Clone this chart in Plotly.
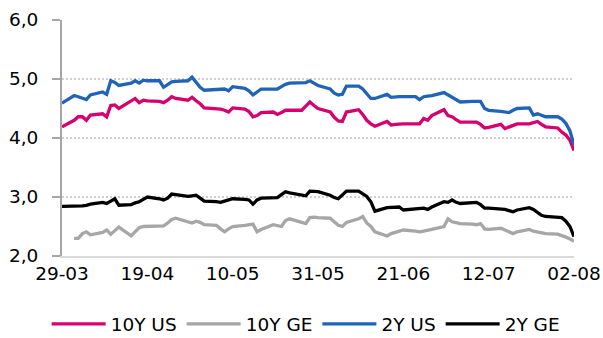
import plotly.graph_objects as go
import pandas as pd

dates = pd.bdate_range("2024-03-29", "2024-08-02").strftime("%Y-%m-%d").tolist()

us10 = [4.19, 4.30, 4.36, 4.36, 4.30, 4.39, 4.41, 4.36, 4.55, 4.56, 4.50,
        4.62, 4.67, 4.60, 4.64, 4.63, 4.62, 4.60, 4.64, 4.70, 4.67,
        4.64, 4.69, 4.63, 4.58, 4.51, 4.50, 4.49, 4.47, 4.44, 4.51,
        4.49, 4.45, 4.36, 4.38, 4.43, 4.44, 4.40, 4.43, 4.47, 4.47,
        4.47, 4.54, 4.61, 4.55, 4.50, 4.44, 4.35, 4.29, 4.28, 4.44,
        4.48, 4.40, 4.30, 4.24, 4.20, 4.28, 4.22, 4.23, 4.24, 4.24,
        4.24, 4.24, 4.33, 4.30, 4.38, 4.48, 4.38, 4.36, 4.31, 4.27,
        4.27, 4.27, 4.23, 4.17, 4.18, 4.23, 4.16, 4.19, 4.21, 4.24,
        4.24, 4.26, 4.28, 4.23, 4.19, 4.17, 4.10, 4.05, 3.96, 3.79]

ge10 = [None, 2.30, 2.30, 2.38, 2.41, 2.36, 2.40, 2.44, 2.37, 2.43, 2.49,
        2.34, 2.41, 2.48, 2.50, 2.50, 2.51, 2.51, 2.56, 2.62, 2.64,
        2.58, 2.56, 2.59, 2.57, 2.53, 2.52, 2.46, 2.41, 2.46, 2.50,
        2.52, 2.53, 2.54, 2.41, 2.45, 2.53, 2.52, 2.50, 2.60, 2.63,
        2.57, 2.55, 2.65, 2.66, 2.65, 2.64, 2.58, 2.52, 2.50, 2.57,
        2.63, 2.67, 2.56, 2.50, 2.41, 2.34, 2.38, 2.40, 2.42, 2.44,
        2.42, 2.41, 2.42, 2.44, 2.45, 2.50, 2.63, 2.58, 2.57, 2.55,
        2.54, 2.53, 2.55, 2.46, 2.45, 2.47, 2.44, 2.41, 2.38, 2.41,
        2.45, 2.42, 2.41, 2.39, 2.38, 2.37, 2.35, 2.32, 2.29, 2.25]

us2 = [4.59, 4.72, 4.70, 4.67, 4.65, 4.73, 4.78, 4.74, 4.97, 4.94, 4.89,
       4.93, 4.97, 4.93, 4.98, 4.97, 4.97, 4.86, 4.91, 4.95, 4.96,
       4.97, 5.03, 4.94, 4.86, 4.81, 4.82, 4.83, 4.83, 4.80, 4.87,
       4.84, 4.80, 4.73, 4.78, 4.83, 4.83, 4.83, 4.87, 4.91, 4.93,
       4.93, 4.94, 4.97, 4.93, 4.89, 4.83, 4.76, 4.73, 4.74, 4.88,
       4.88, 4.83, 4.75, 4.67, 4.67, 4.74, 4.69, 4.70, 4.70, 4.70,
       4.70, 4.65, 4.70, 4.71, 4.72, 4.77, 4.73, 4.70, 4.66, 4.61,
       4.62, 4.62, 4.62, 4.50, 4.47, 4.45, 4.44, 4.43, 4.47, 4.50,
       4.51, 4.39, 4.41, 4.38, 4.36, 4.36, 4.32, 4.25, 4.12, 3.88]

ge2 = [2.84, 2.84, 2.84, 2.85, 2.86, 2.88, 2.91, 2.89, 2.93, 2.97, 2.86,
       2.87, 2.90, 2.92, 2.96, 3.00, 2.97, 2.95, 2.98, 3.05, 3.04,
       3.01, 3.02, 3.03, 2.98, 2.93, 2.92, 2.91, 2.93, 2.95, 2.97,
       2.96, 2.95, 2.88, 2.95, 2.98, 2.98, 2.99, 3.04, 3.09, 3.07,
       3.04, 3.02, 3.10, 3.10, 3.09, 3.03, 2.99, 2.97, 3.04, 3.10,
       3.10, 3.06, 3.01, 2.92, 2.76, 2.82, 2.82, 2.82, 2.83, 2.78,
       2.80, 2.80, 2.81, 2.79, 2.83, 2.92, 2.91, 2.95, 2.91, 2.89,
       2.90, 2.91, 2.87, 2.81, 2.81, 2.80, 2.79, 2.77, 2.75, 2.78,
       2.82, 2.79, 2.74, 2.69, 2.67, 2.66, 2.65, 2.59, 2.50, 2.33]

series_names = ["10Y US", "10Y GE", "2Y US", "2Y GE"]
series_colors = ["#D6006F", "#A6A6A6", "#1F64B8", "#000000"]

tick_dates = ["2024-03-29", "2024-04-19", "2024-05-10", "2024-05-31",
              "2024-06-21", "2024-07-12", "2024-08-02"]
tick_labels = ["29-03", "19-04", "10-05", "31-05", "21-06", "12-07", "02-08"]
y_ticks = [2, 3, 4, 5, 6]

FONT = "DejaVu Sans"
FS = 18.5

fig = go.Figure()
for name, vals, col in zip(series_names, [us10, ge10, us2, ge2], series_colors):
    fig.add_trace(go.Scatter(x=dates, y=vals, name=name, mode="lines",
                             line=dict(color=col, width=3.3), connectgaps=False))

fig.update_layout(
    width=603, height=338,
    margin=dict(l=62, r=29, t=20, b=82, autoexpand=False),
    plot_bgcolor="white", paper_bgcolor="white",
    separators=",.",
    font=dict(family=FONT, size=FS, color="#000000"),
    showlegend=True,
    legend=dict(orientation="h", xref="paper", x=-0.03, xanchor="left",
                yref="paper", y=-0.29, yanchor="middle",
                font=dict(family=FONT, size=FS, color="#000000"),
                itemwidth=54, traceorder="normal"),
)
fig.update_xaxes(
    type="date", range=["2024-03-29", "2024-08-02"],
    tickvals=tick_dates, ticktext=tick_labels,
    showgrid=False, showline=True, linecolor="#D9D9D9", linewidth=2,
    ticks="", zeroline=False, tickfont=dict(family=FONT, size=FS),
)
fig.update_yaxes(
    range=[2, 6], tickvals=y_ticks, tickformat=".1f",
    showgrid=True, gridcolor="#D0D0D0", gridwidth=1.5, griddash="2px,2px",
    showline=True, linecolor="#A6A6A6", linewidth=2,
    ticks="outside", ticklen=8, tickcolor="#A6A6A6", tickwidth=2,
    ticklabelstandoff=10,
    zeroline=False, tickfont=dict(family=FONT, size=FS),
)

fig.write_html("out.html", config={"displayModeBar": False},
               post_script="document.body.style.margin='0';")
